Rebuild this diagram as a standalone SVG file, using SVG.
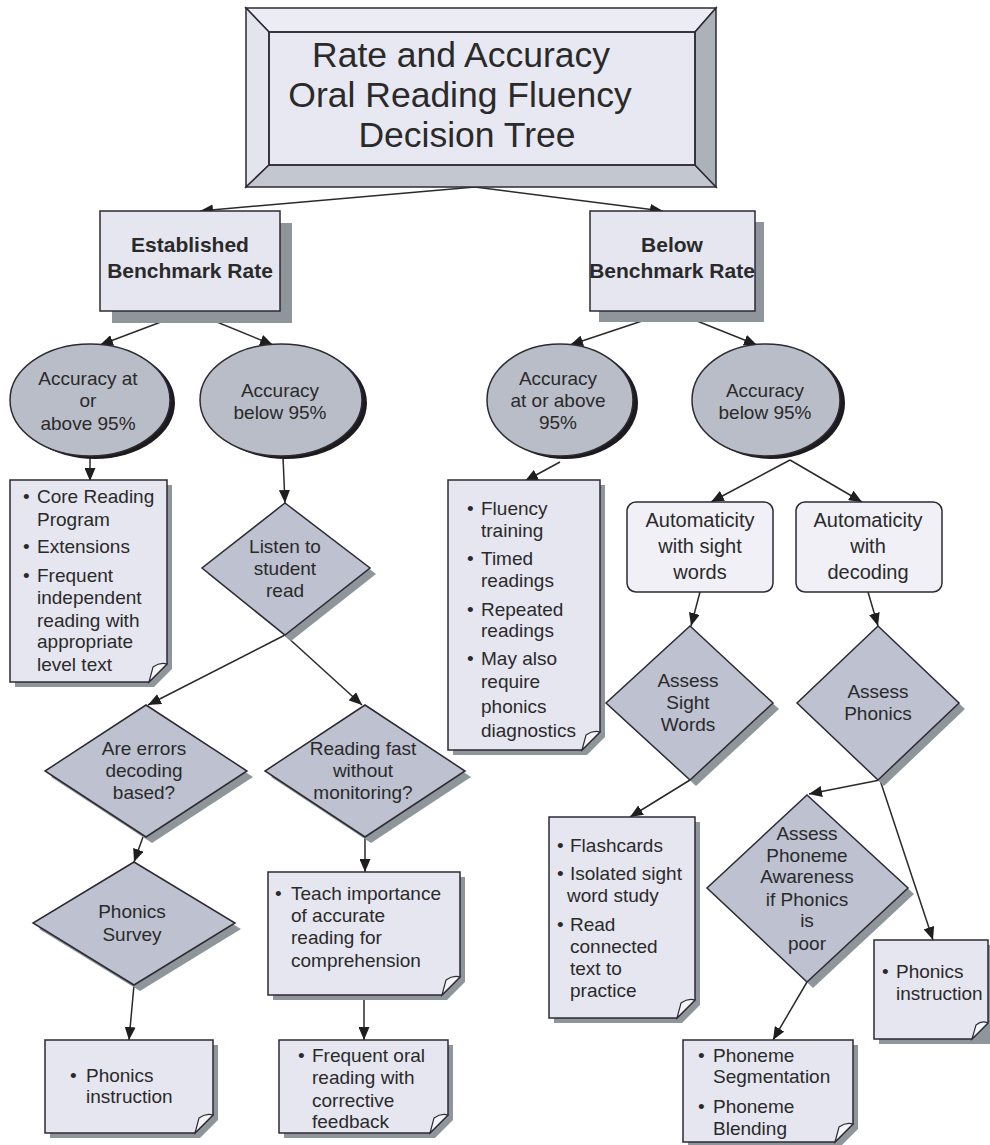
<svg xmlns="http://www.w3.org/2000/svg" width="990" height="1145" viewBox="0 0 990 1145">
<defs>
<style>
.t{font-family:"Liberation Sans",Arial,sans-serif;fill:#2a2a2a;font-size:19px}
.c{text-anchor:middle}
.b{font-weight:bold;font-size:21px}
.ttl{font-size:35.5px}
.au{font-size:20px}
.box{fill:#e6e6f0;stroke:#2e2a33;stroke-width:1.5}
.sh{fill:#8e969c}
.dia{fill:#bdc1d0;stroke:#2e2a33;stroke-width:1.5}
.ell{fill:#b9bdc8;stroke:#2e2a33;stroke-width:1.5}
.esh{fill:#1e1b1f}
.fold{fill:#f6f6fa;stroke:#2e2a33;stroke-width:1.2}
.auto{fill:#f0f0f6;stroke:#2e2a33;stroke-width:1.5}
.ln{stroke:#2a2a2a;stroke-width:1.5;fill:none;marker-end:url(#ah)}
</style>
<marker id="ah" markerUnits="userSpaceOnUse" markerWidth="13" markerHeight="11" refX="13" refY="5.5" orient="auto">
<path d="M0,0 L13,5.5 L0,11 z" fill="#1e1e1e"/>
</marker>
</defs>
<rect width="990" height="1145" fill="#ffffff"/>

<g id="connectors">
<line class="ln" x1="475" y1="187" x2="200" y2="211"/>
<line class="ln" x1="475" y1="187" x2="663" y2="211"/>
<line class="ln" x1="190" y1="311" x2="100" y2="345"/>
<line class="ln" x1="190" y1="311" x2="273" y2="345"/>
<line class="ln" x1="672" y1="311" x2="570" y2="345"/>
<line class="ln" x1="672" y1="311" x2="757" y2="345"/>
<line class="ln" x1="90" y1="456" x2="90" y2="481"/>
<line class="ln" x1="283" y1="457" x2="285" y2="503"/>
<line class="ln" x1="560" y1="462" x2="525" y2="481"/>
<line class="ln" x1="790" y1="460" x2="711" y2="502"/>
<line class="ln" x1="790" y1="460" x2="862" y2="502"/>
<line class="ln" x1="285" y1="635" x2="148" y2="705"/>
<line class="ln" x1="285" y1="635" x2="362" y2="705"/>
<line class="ln" x1="143" y1="837" x2="134" y2="862"/>
<line class="ln" x1="365" y1="837" x2="365" y2="872"/>
<line class="ln" x1="134" y1="985" x2="129" y2="1040"/>
<line class="ln" x1="364" y1="995" x2="364" y2="1040"/>
<line class="ln" x1="700" y1="592" x2="691" y2="626"/>
<line class="ln" x1="868" y1="592" x2="878" y2="626"/>
<line class="ln" x1="690" y1="780" x2="630" y2="817"/>
<line class="ln" x1="880" y1="780" x2="809" y2="794"/>
<line class="ln" x1="880" y1="780" x2="933" y2="940"/>
<line class="ln" x1="807" y1="982" x2="773" y2="1040"/>
</g>

<g id="title">
<rect x="269" y="32" width="426" height="133" fill="#e8e8f2"/>
<polygon points="246,8 716,8 695,32 269,32" fill="#ececf4" stroke="#2e2a33" stroke-width="1.5"/>
<polygon points="246,8 269,32 269,165 246,187" fill="#e4e4ee" stroke="#2e2a33" stroke-width="1.5"/>
<polygon points="246,187 269,165 695,165 716,187" fill="#c4c7cf" stroke="#2e2a33" stroke-width="1.5"/>
<polygon points="716,8 695,32 695,165 716,187" fill="#adb1ba" stroke="#2e2a33" stroke-width="1.5"/>
<rect x="269" y="32" width="426" height="133" fill="none" stroke="#2e2a33" stroke-width="1.5"/>
<text class="t c ttl" x="461" y="67">Rate and Accuracy</text>
<text class="t c ttl" x="460" y="107">Oral Reading Fluency</text>
<text class="t c ttl" x="467" y="147">Decision Tree</text>
</g>

<g id="established">
<rect class="sh" x="112" y="223" width="180" height="100"/>
<rect class="box" x="100" y="211" width="180" height="100"/>
<text class="t c b" x="190" y="252">Established</text>
<text class="t c b" x="190" y="278">Benchmark Rate</text>
</g>

<g id="below">
<rect class="sh" x="599" y="222" width="165" height="100"/>
<rect class="box" x="590" y="211" width="165" height="100"/>
<text class="t c b" x="672" y="252">Below</text>
<text class="t c b" x="672" y="278">Benchmark Rate</text>
</g>

<g id="acc-at-left">
<ellipse class="esh" cx="95" cy="403" rx="80" ry="56"/>
<ellipse class="ell" cx="90" cy="400" rx="80" ry="56"/>
<text class="t c" x="88" y="385">Accuracy at</text>
<text class="t c" x="88" y="407">or</text>
<text class="t c" x="88" y="430">above 95%</text>
</g>

<g id="acc-below-left">
<ellipse class="esh" cx="286" cy="403" rx="81" ry="56"/>
<ellipse class="ell" cx="281" cy="400" rx="81" ry="56"/>
<text class="t c" x="280" y="397">Accuracy</text>
<text class="t c" x="280" y="419">below 95%</text>
</g>

<g id="acc-at-right">
<ellipse class="esh" cx="565" cy="403" rx="73" ry="56"/>
<ellipse class="ell" cx="560" cy="400" rx="73" ry="56"/>
<text class="t c" x="558" y="385">Accuracy</text>
<text class="t c" x="558" y="407">at or above</text>
<text class="t c" x="558" y="429">95%</text>
</g>

<g id="acc-below-right">
<ellipse class="esh" cx="771" cy="403" rx="74" ry="56"/>
<ellipse class="ell" cx="766" cy="400" rx="74" ry="56"/>
<text class="t c" x="765" y="397">Accuracy</text>
<text class="t c" x="765" y="419">below 95%</text>
</g>

<g id="core-reading">
<path class="sh" d="M15,485 H172 V669 L154,687 H15 Z"/>
<path class="box" d="M10,480 H167 V664 L149,682 H10 Z"/>
<path class="fold" d="M149,682 L153,667 Q160,662 167,664 Z"/>
<text class="t" x="23" y="503">•</text><text class="t" x="37" y="503">Core Reading</text>
<text class="t" x="37" y="526">Program</text>
<text class="t" x="23" y="553">•</text><text class="t" x="37" y="553">Extensions</text>
<text class="t" x="23" y="582">•</text><text class="t" x="37" y="582">Frequent</text>
<text class="t" x="37" y="604">independent</text>
<text class="t" x="37" y="627">reading with</text>
<text class="t" x="37" y="648">appropriate</text>
<text class="t" x="37" y="671">level text</text>
</g>

<g id="listen">
<polygon class="sh" points="291,509 376,574 291,641 208,574"/>
<polygon class="dia" points="285,503 370,568 285,635 202,568"/>
<text class="t c" x="285" y="553">Listen to</text>
<text class="t c" x="285" y="575">student</text>
<text class="t c" x="285" y="597">read</text>
</g>

<g id="are-errors">
<polygon class="sh" points="152,711 253,777 152,843 51,777"/>
<polygon class="dia" points="146,705 247,771 146,837 45,771"/>
<text class="t c" x="144" y="755">Are errors</text>
<text class="t c" x="144" y="777">decoding</text>
<text class="t c" x="144" y="799">based?</text>
</g>

<g id="reading-fast">
<polygon class="sh" points="371,711 471,777 371,843 271,777"/>
<polygon class="dia" points="365,705 465,771 365,837 265,771"/>
<text class="t c" x="363" y="755">Reading fast</text>
<text class="t c" x="363" y="777">without</text>
<text class="t c" x="363" y="799">monitoring?</text>
</g>

<g id="phonics-survey">
<polygon class="sh" points="140,868 241,929 140,991 39,929"/>
<polygon class="dia" points="134,862 235,923 134,985 33,923"/>
<text class="t c" x="132" y="918">Phonics</text>
<text class="t c" x="132" y="941">Survey</text>
</g>

<g id="phonics-instruction-left">
<path class="sh" d="M50,1045 H218 V1120 L200,1138 H50 Z"/>
<path class="box" d="M45,1040 H213 V1115 L195,1133 H45 Z"/>
<path class="fold" d="M195,1133 L199,1118 Q206,1113 213,1115 Z"/>
<text class="t" x="70" y="1082">•</text><text class="t" x="86" y="1082">Phonics</text>
<text class="t" x="86" y="1103">instruction</text>
</g>

<g id="teach">
<path class="sh" d="M273,877 H465 V982 L447,1000 H273 Z"/>
<path class="box" d="M268,872 H460 V977 L442,995 H268 Z"/>
<path class="fold" d="M442,995 L446,980 Q453,975 460,977 Z"/>
<text class="t" x="275" y="900">•</text><text class="t" x="291" y="900">Teach importance</text>
<text class="t" x="291" y="922">of accurate</text>
<text class="t" x="291" y="944">reading for</text>
<text class="t" x="291" y="967">comprehension</text>
</g>

<g id="frequent-oral">
<path class="sh" d="M284,1045 H453 V1120 L435,1138 H284 Z"/>
<path class="box" d="M279,1040 H448 V1115 L430,1133 H279 Z"/>
<path class="fold" d="M430,1133 L434,1118 Q441,1113 448,1115 Z"/>
<text class="t" x="298" y="1062">•</text><text class="t" x="312" y="1062">Frequent oral</text>
<text class="t" x="312" y="1084">reading with</text>
<text class="t" x="312" y="1107">corrective</text>
<text class="t" x="312" y="1128">feedback</text>
</g>

<g id="fluency">
<path class="sh" d="M453,485 H605 V737 L587,755 H453 Z"/>
<path class="box" d="M448,480 H600 V732 L582,750 H448 Z"/>
<path class="fold" d="M582,750 L586,735 Q593,730 600,732 Z"/>
<text class="t" x="467" y="515">•</text><text class="t" x="481" y="515">Fluency</text>
<text class="t" x="481" y="537">training</text>
<text class="t" x="467" y="565">•</text><text class="t" x="481" y="565">Timed</text>
<text class="t" x="481" y="587">readings</text>
<text class="t" x="467" y="616">•</text><text class="t" x="481" y="616">Repeated</text>
<text class="t" x="481" y="637">readings</text>
<text class="t" x="467" y="665">•</text><text class="t" x="481" y="665">May also</text>
<text class="t" x="481" y="688">require</text>
<text class="t" x="481" y="713">phonics</text>
<text class="t" x="481" y="737">diagnostics</text>
</g>

<g id="auto-sight">
<rect class="auto" x="627" y="502" width="146" height="90" rx="9"/>
<text class="t c au" x="700" y="527">Automaticity</text>
<text class="t c au" x="700" y="553">with sight</text>
<text class="t c au" x="700" y="579">words</text>
</g>

<g id="auto-decoding">
<rect class="auto" x="796" y="502" width="146" height="90" rx="9"/>
<text class="t c au" x="868" y="527">Automaticity</text>
<text class="t c au" x="868" y="553">with</text>
<text class="t c au" x="868" y="579">decoding</text>
</g>

<g id="assess-sight">
<polygon class="sh" points="696,632 779,709 696,786 612,709"/>
<polygon class="dia" points="690,626 773,703 690,780 606,703"/>
<text class="t c" x="688" y="687">Assess</text>
<text class="t c" x="688" y="709">Sight</text>
<text class="t c" x="688" y="731">Words</text>
</g>

<g id="assess-phonics">
<polygon class="sh" points="884,632 965,709 884,786 803,709"/>
<polygon class="dia" points="878,626 959,703 878,780 797,703"/>
<text class="t c" x="878" y="698">Assess</text>
<text class="t c" x="878" y="720">Phonics</text>
</g>

<g id="flashcards">
<path class="sh" d="M554,822 H700 V1005 L682,1023 H554 Z"/>
<path class="box" d="M549,817 H695 V1000 L677,1018 H549 Z"/>
<path class="fold" d="M677,1018 L681,1003 Q688,998 695,1000 Z"/>
<text class="t" x="557" y="852">•</text><text class="t" x="570" y="852">Flashcards</text>
<text class="t" x="557" y="880">•</text><text class="t" x="570" y="880">Isolated sight</text>
<text class="t" x="567" y="902">word study</text>
<text class="t" x="557" y="931">•</text><text class="t" x="570" y="931">Read</text>
<text class="t" x="570" y="953">connected</text>
<text class="t" x="570" y="975">text to</text>
<text class="t" x="570" y="997">practice</text>
</g>

<g id="assess-phoneme">
<polygon class="sh" points="813,801 914,894 813,988 713,894"/>
<polygon class="dia" points="807,795 908,888 807,982 707,888"/>
<text class="t c" x="807" y="840">Assess</text>
<text class="t c" x="807" y="862">Phoneme</text>
<text class="t c" x="807" y="883">Awareness</text>
<text class="t c" x="807" y="906">if Phonics</text>
<text class="t c" x="807" y="927">is</text>
<text class="t c" x="807" y="950">poor</text>
</g>

<g id="phoneme-box">
<path class="sh" d="M688,1045 H858 V1129 L840,1147 H688 Z"/>
<path class="box" d="M683,1040 H853 V1124 L835,1142 H683 Z"/>
<path class="fold" d="M835,1142 L839,1127 Q846,1122 853,1124 Z"/>
<text class="t" x="698" y="1062">•</text><text class="t" x="713" y="1062">Phoneme</text>
<text class="t" x="713" y="1083">Segmentation</text>
<text class="t" x="698" y="1113">•</text><text class="t" x="713" y="1113">Phoneme</text>
<text class="t" x="713" y="1135">Blending</text>
</g>

<g id="phonics-instruction-right">
<path class="sh" d="M879,945 H993 V1044 H879 Z"/>
<path class="box" d="M874,940 H988 V1023 L972,1039 H874 Z"/>
<path class="fold" d="M972,1039 L976,1025 Q982,1020 988,1023 Z"/>
<text class="t" x="882" y="978">•</text><text class="t" x="896" y="978">Phonics</text>
<text class="t" x="896" y="1000">instruction</text>
</g>
</svg>
